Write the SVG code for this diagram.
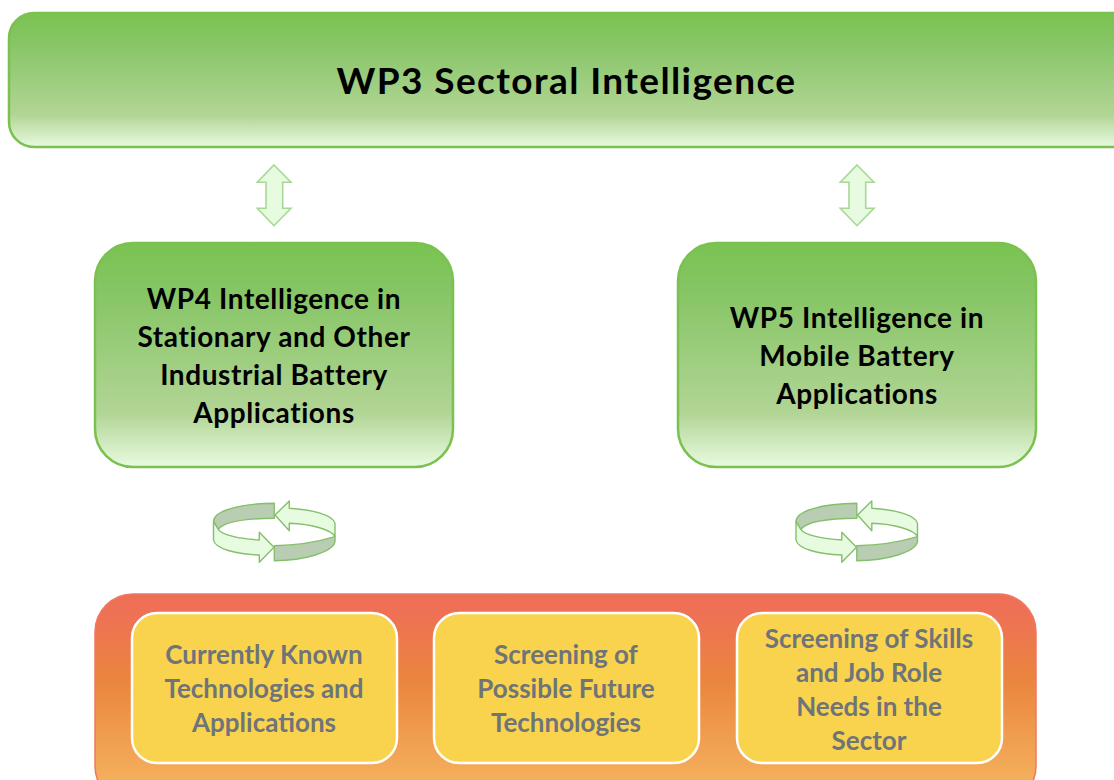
<svg xmlns="http://www.w3.org/2000/svg" width="1114" height="780" viewBox="0 0 1114 780">
<style>
.g{stroke:#7ac14f;stroke-width:2.5;fill:url(#green)}
.in{fill:#f9d34e;stroke:#fff;stroke-width:2.5}
.t{font-family:"Lato","Carlito","Open Sans",sans-serif;text-anchor:middle;fill:#000;font-weight:700}
.wp{font-size:28px;letter-spacing:.6px}
.s{font-family:"Lato","Carlito","Open Sans",sans-serif;text-anchor:middle;fill:#6f7478;font-size:26px;font-weight:700}
.a{fill:#e6fbe0;stroke:#a9d896;stroke-width:1.6;stroke-linejoin:miter}
.c{fill:#e6fbe0;stroke:#85bf6c;stroke-width:1.4;stroke-linejoin:round}
.d{fill:#b9cdb3;stroke:#85bf6c;stroke-width:1.4;stroke-linejoin:round}
</style>
<defs>
<linearGradient id="green" x1="0" y1="0" x2="0" y2="1">
<stop offset="0" stop-color="#7ac351"/><stop offset=".22" stop-color="#86c565"/><stop offset=".76" stop-color="#b2d595"/><stop offset="1" stop-color="#e8fae0"/>
</linearGradient>
<linearGradient id="orange" gradientUnits="userSpaceOnUse" x1="0" y1="593" x2="0" y2="800">
<stop offset="0" stop-color="#ee6e56"/><stop offset=".1" stop-color="#ee7155"/><stop offset=".42" stop-color="#ea853e"/><stop offset="1" stop-color="#f6b862"/>
</linearGradient>
<g id="dbl"><path class="a" d="M274 165L291 182.300H282.700V208.300H291L274 225.700L257.300 208.300H266V182.300H257.300Z"/></g>
<g id="cyc">
<path class="d" d="M213.500 521.700C213.500 511 239 503.500 274.300 503.300V518.300C246 518.500 224 522 218.300 529.300Z"/>
<path class="d" d="M274.300 545.700C300 545.500 324 540 335 536.700V541.700C333 552 305 560.500 274.300 560.700Z"/>
<path class="c" d="M213.500 521.700V540C215 549 236 554 259.300 555V562.300L274 547.300L259.300 532.300V540C240 539 222 535 218.300 529.300Z"/>
<path class="c" d="M275 515L289.300 501V508.300C312 509.500 333 515 335 523.300V536.700C332 530 312 524 289.300 523.300V530.700Z"/>
</g>
</defs>
<g id="wp3"><rect class="g" x="9" y="13" width="1130" height="134" rx="25"/><text class="t" x="566.500" y="94" font-size="37" letter-spacing="1.4">WP3 Sectoral Intelligence</text></g>
<g id="wp4"><rect class="g" x="95" y="243" width="358" height="224" rx="38"/><text class="t wp" x="274" y="309">WP4 Intelligence in</text><text class="t wp" x="274" y="347">Stationary and Other</text><text class="t wp" x="274" y="385">Industrial Battery</text><text class="t wp" x="274" y="423">Applications</text></g>
<g id="wp5"><rect class="g" x="678" y="243" width="358" height="224" rx="38"/><text class="t wp" x="857" y="328">WP5 Intelligence in</text><text class="t wp" x="857" y="366">Mobile Battery</text><text class="t wp" x="857" y="404">Applications</text></g>
<g id="connectors">
<use href="#dbl"/><use href="#dbl" x="583"/>
<use href="#cyc"/><use href="#cyc" x="582.500"/>
</g>
<g id="base"><rect x="95" y="594" width="941" height="210" rx="38" fill="url(#orange)" stroke="#ee7860" stroke-width="1.500"/></g>
<g id="n1"><rect class="in" x="132" y="613" width="265" height="150" rx="25"/><text class="s" x="264" y="663.500">Currently Known</text><text class="s" x="264" y="697.500">Technologies and</text><text class="s" x="264" y="731.500">Applications</text></g>
<g id="n2"><rect class="in" x="434" y="613" width="265" height="150" rx="25"/><text class="s" x="566" y="663.500">Screening of</text><text class="s" x="566" y="697.500">Possible Future</text><text class="s" x="566" y="731.500">Technologies</text></g>
<g id="n3"><rect class="in" x="737" y="613" width="265" height="150" rx="25"/><text class="s" x="869" y="647.500">Screening of Skills</text><text class="s" x="869" y="681.500">and Job Role</text><text class="s" x="869" y="715.500">Needs in the</text><text class="s" x="869" y="749.500">Sector</text></g>
</svg>
